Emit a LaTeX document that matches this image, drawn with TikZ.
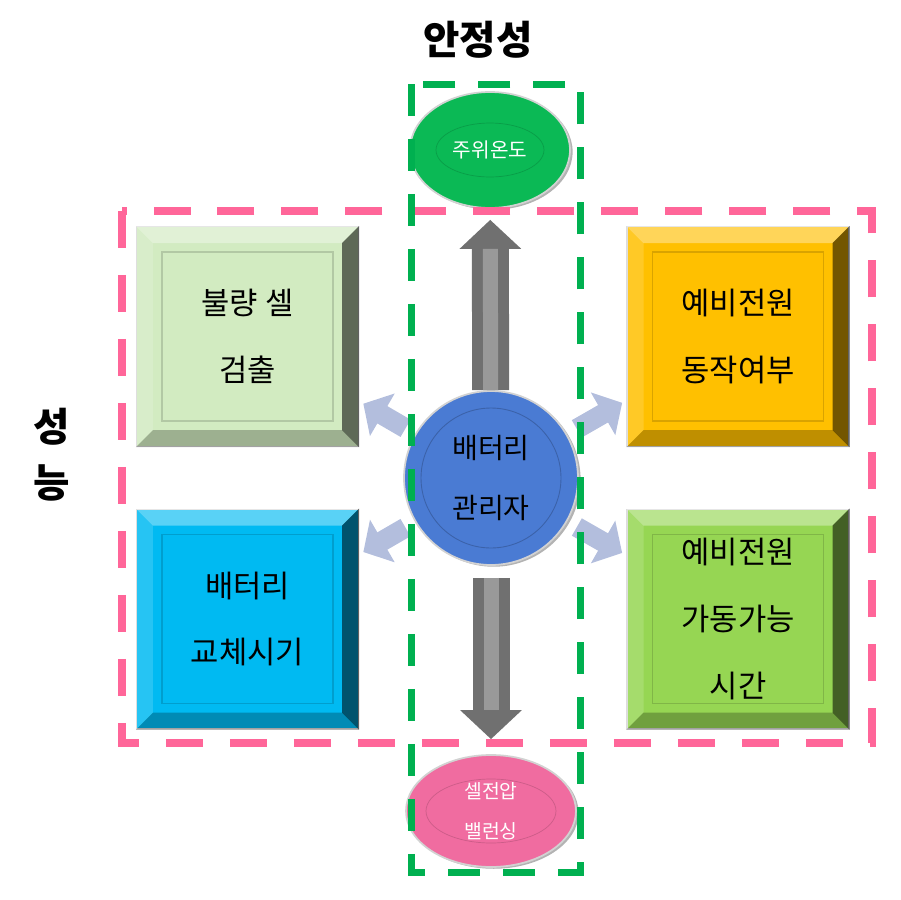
\documentclass[tikz,border=0pt]{standalone}
\usepackage{fontspec}
\setmainfont{Noto Sans CJK KR}
\usetikzlibrary{arrows.meta,shapes.geometric,shadows}
\definecolor{panelgreen}{HTML}{D2EBC1}
\definecolor{panelgold}{HTML}{FFC000}
\definecolor{panelcyan}{HTML}{00BAF2}
\definecolor{panellime}{HTML}{96D653}
\definecolor{ballblue}{HTML}{4A7BD3}
\definecolor{tempgreen}{HTML}{0BB955}
\definecolor{balpink}{HTML}{F06CA0}
\definecolor{framepink}{HTML}{FF6699}
\definecolor{framegreen}{HTML}{00B050}
\definecolor{arrowgray}{HTML}{707070}
\definecolor{tipblue}{HTML}{B3BEDD}
\begin{document}
\begin{tikzpicture}[x=0.02cm,y=-0.02cm,
    panel/.style={rectangle,minimum width=4.44cm,minimum height=4.4cm,inner sep=0pt,draw=gray!30,line width=0.6pt,align=center,font=\fontsize{17.5}{38}\selectfont},
    ball/.style={circle,minimum size=3.48cm,inner sep=0pt,fill=ballblue,draw=gray!35,line width=1pt,drop shadow={shadow xshift=1.5pt,shadow yshift=-1pt,opacity=0.6},align=center,font=\fontsize{16}{34}\selectfont},
    disc/.style={ellipse,inner sep=0pt,draw=gray!35,line width=1pt,text=white,align=center,drop shadow={shadow xshift=1.5pt,shadow yshift=-1pt,opacity=0.6}},
    heading/.style={align=center,font=\fontsize{22.5}{32}\selectfont\bfseries},
    bigarrow/.style={draw=arrowgray,line width=0.74cm,-{Triangle[width=1.2cm,length=0.58cm]}},
    shine/.style={draw=gray!80,line width=0.3cm},
    pointer/.style={draw=tipblue,line width=0.4cm,shorten <=0.22cm,shorten >=0.1cm,-{Triangle[width=0.96cm,length=0.44cm]}}]
    \useasboundingbox (0,0) rectangle (900,900);
    \node[heading] (stab) at (478,40) {안정성};
    \node[heading] (perf) at (52,455) {성\\능};
    \node[panel,fill=panelgreen] (defect) at (247.5,336.5) {불량 셀\\검출};
    \node[panel,fill=panelgold] (backup) at (738,336.5) {예비전원\\동작여부};
    \node[panel,fill=panelcyan] (swap) at (247.5,619) {배터리\\교체시기};
    \node[panel,fill=panellime] (runtime) at (738,619) {예비전원\\가동가능\\시간};
    \foreach \n/\c in {defect/panelgreen,backup/panelgold,swap/panelcyan,runtime/panellime}{
        \fill[white,opacity=0.35] (\n.north west) -- (\n.north east) -- ([shift={(-17,17)}]\n.north east) -- ([shift={(17,17)}]\n.north west) -- cycle;
        \fill[white,opacity=0.15] (\n.north west) -- (\n.south west) -- ([shift={(17,-17)}]\n.south west) -- ([shift={(17,17)}]\n.north west) -- cycle;
        \fill[black,opacity=0.25] (\n.south west) -- (\n.south east) -- ([shift={(-17,-17)}]\n.south east) -- ([shift={(17,-17)}]\n.south west) -- cycle;
        \fill[black,opacity=0.55] (\n.north east) -- (\n.south east) -- ([shift={(-17,-17)}]\n.south east) -- ([shift={(-17,17)}]\n.north east) -- cycle;
        \draw[\c!85!black,line width=0.8pt] ([shift={(26,26)}]\n.north west) rectangle ([shift={(-26,-26)}]\n.south east);
    }
    \node[ball] (batt) at (491,478) {배터리\\관리자};
    \draw[ballblue!80!black,line width=0.5pt] (batt.center) circle[radius=1.4cm];
    \node[disc,fill=tempgreen,minimum width=3.2cm,minimum height=2.32cm,font=\fontsize{11.5}{20}\selectfont] (temp) at (490,150) {주위온도};
    \draw[tempgreen!85!black] (temp.center) ellipse[x radius=1.08cm,y radius=0.54cm];
    \node[disc,fill=balpink,minimum width=3.4cm,minimum height=2.24cm,font=\fontsize{11}{23}\selectfont] (bal) at (491,811) {셀전압\\밸런싱};
    \draw[balpink!85!black] (bal.center) ellipse[x radius=1.3cm,y radius=0.64cm];
    \draw[bigarrow,shorten >=0.22cm] (batt) -- (temp);
    \draw[shine,shorten >=0.8cm] (batt) -- (temp);
    \draw[bigarrow,shorten <=0.24cm,shorten >=0.3cm] (batt) -- (bal);
    \draw[shine,shorten <=0.24cm,shorten >=0.88cm] (batt) -- (bal);
    \foreach \n in {defect,backup,swap,runtime}
        \draw[pointer] (batt) -- (\n);
    \draw[framepink,line width=0.16cm,dash pattern=on 0.74cm off 0.54cm] (122,211) rectangle (872,743);
    \draw[framegreen,line width=0.14cm,dash pattern=on 0.64cm off 0.46cm] (411,84) rectangle (580,872);
\end{tikzpicture}
\end{document}
